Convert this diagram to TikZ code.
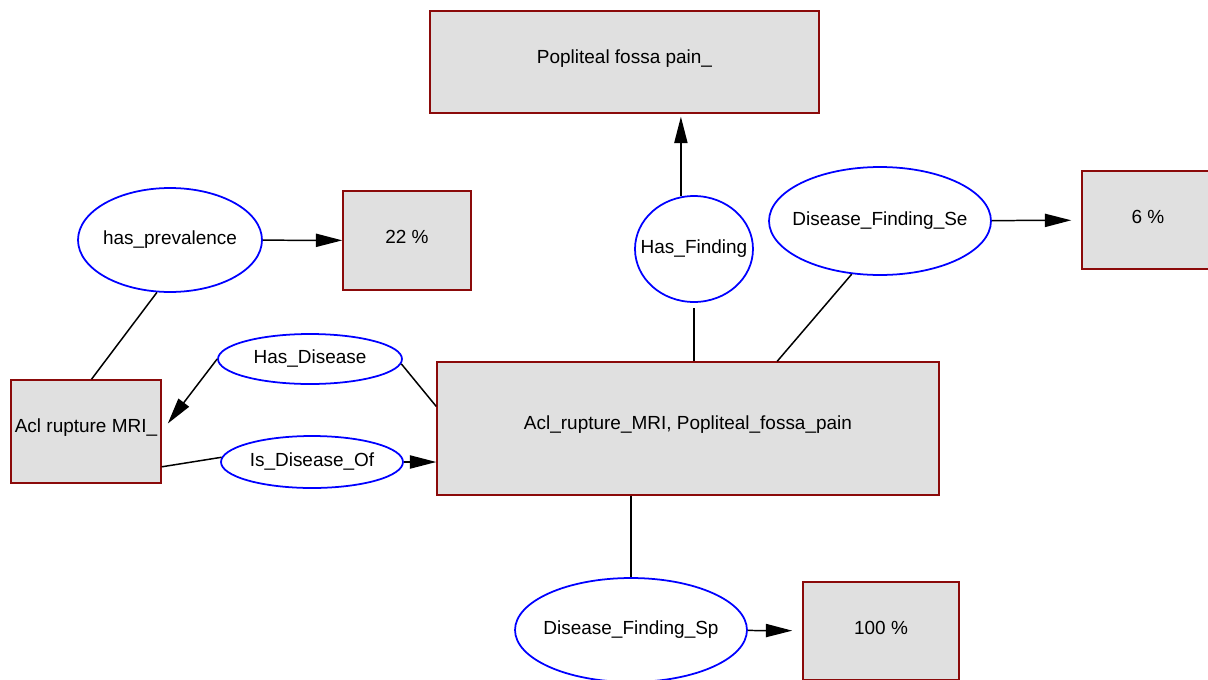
\documentclass[tikz,border=0pt]{standalone}
\usepackage{fontspec}
\setmainfont{Liberation Sans}
\usepackage{xcolor}
\usetikzlibrary{arrows.meta,positioning,shapes.geometric,calc}
\definecolor{boxline}{RGB}{139,10,10}
\definecolor{boxfill}{RGB}{224,224,224}
\newcommand{\liftlabel}[1]{\raisebox{2pt}[\height][\depth]{#1}}
\newcommand{\rellabel}[1]{\makebox[0pt]{#1}}
\begin{document}
\begin{tikzpicture}[x=0.02cm,y=-0.02cm,>={Triangle[length=15pt,width=7.5pt]},line width=0.85pt,
  every node/.style={font=\fontsize{10.8}{13}\selectfont,inner sep=0pt},
  concept/.style={draw=boxline,fill=boxfill,line width=0.85pt},
  relation/.style={draw=blue,ellipse,line width=1pt}]
\useasboundingbox (0,0) rectangle (1208,680);
% concept boxes
\node[concept,minimum width=7.78cm,minimum height=2.04cm] (pop) at (624.5,62) {\liftlabel{Popliteal fossa pain\_}};
\node[concept,minimum width=2.56cm,minimum height=1.98cm] (prev22) at (407,240.5) {\liftlabel{22 \%}};
\node[concept,minimum width=2.64cm,minimum height=1.96cm] (se6) at (1148,220) {\liftlabel{6 \%}};
\node[concept,minimum width=3.0cm,minimum height=2.06cm] (acl) at (86,431.5) {\liftlabel{Acl rupture MRI\_}};
\node[concept,minimum width=10.04cm,minimum height=2.66cm] (main) at (688,428.5) {\liftlabel{Acl\_rupture\_MRI, Popliteal\_fossa\_pain}};
\node[concept,minimum width=3.12cm,minimum height=1.96cm] (sp100) at (881,631) {\liftlabel{100 \%}};
% relations
\node[relation,minimum width=3.68cm,minimum height=2.08cm] (prev) at (170,240) {\rellabel{has\_prevalence}};
\node[relation,minimum width=2.36cm,minimum height=2.12cm] (hasfind) at (694,249) {\rellabel{Has\_Finding}};
\node[relation,minimum width=4.44cm,minimum height=2.16cm] (dfse) at (880,221) {\rellabel{Disease\_Finding\_Se}};
\node[relation,minimum width=3.68cm,minimum height=1.0cm] (hasdis) at (310,359) {\rellabel{Has\_Disease}};
\node[relation,minimum width=3.64cm,minimum height=1.04cm] (isdis) at (312,462) {\rellabel{Is\_Disease\_Of}};
\node[relation,minimum width=4.64cm,minimum height=2.08cm] (dfsp) at (631,630) {\rellabel{Disease\_Finding\_Sp}};
% connectors
\draw (prev.256) -- (acl.84);
\draw[->] (prev) -- (prev22);
\draw[->,shorten >=0.06cm] (hasfind.104) -- (hasfind.104 |- pop.south);
\draw[shorten >=0.1cm] (main.north -| hasfind.south) -- (hasfind.south);
\draw (main.37) -- (dfse.242);
\draw[->,shorten >=0.2cm] (dfse) -- (se6);
\draw[->,shorten >=0.2cm] (hasdis.west) -- (acl.east);
\draw (main.175) -- (hasdis.357);
\draw (acl.-25) -- (isdis.177);
\draw[->] (isdis.east) -- (isdis.east -| main.west);
\draw (main.south -| dfsp.north) -- (dfsp.north);
\draw[->,shorten >=0.2cm] (dfsp) -- (sp100);
\end{tikzpicture}
\end{document}
